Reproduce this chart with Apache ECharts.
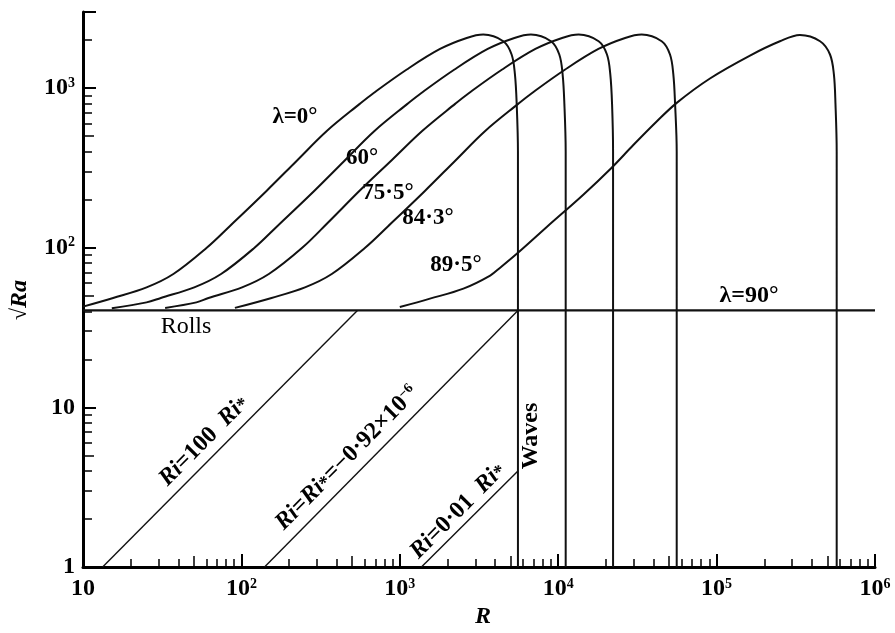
<!DOCTYPE html>
<html><head><meta charset="utf-8">
<script src="https://cdn.jsdelivr.net/npm/echarts@6/dist/echarts.min.js"></script>
<style>html,body{margin:0;padding:0;background:#fff}#c{width:895px;height:633px}</style>
</head><body><div id="c"></div>
<script>
// ---- data (R, sqrt(Ra)) ----
const R_lam0   = [10, 15.5, 25.2, 37.2, 60.4, 84.7, 144, 223, 346, 561, 681, 1107, 1795, 2645, 3365, 4500, 5080, 5330, 5470, 5570, 5570];
const Ra_lam0  = [42.8, 48.5, 56.5, 68.5, 100, 137, 227, 350, 539, 800, 930, 1309, 1760, 2062, 2166, 1967, 1625, 1223, 794, 400, 1];
const R_lam60  = [15.2, 25.2, 31, 50.4, 74.4, 121, 169, 288, 446, 692, 1122, 1362, 2214, 3590, 5290, 6730, 9000, 10160, 10660, 10940, 11150, 11150];
const Ra_lam60 = [41.8, 45.5, 48.5, 56.5, 68.5, 100, 137, 227, 350, 539, 800, 930, 1309, 1760, 2062, 2166, 1967, 1625, 1223, 794, 400, 1];
const R_lam75  = [33, 52, 62, 101, 149, 242, 350, 576, 892, 1384, 2244, 2724, 4428, 7180, 10580, 13460, 18000, 20320, 21320, 21880, 22200, 22200];
const Ra_lam75 = [42, 45.5, 48.5, 56.5, 68.5, 100, 143, 235, 355, 539, 800, 930, 1309, 1760, 2062, 2166, 1967, 1625, 1223, 794, 400, 1];
const R_lam84  = [91, 155, 252, 372, 604, 847, 1440, 2230, 3460, 5610, 6810, 11070, 17950, 26450, 33650, 45000, 50800, 53300, 54700, 56000, 56000];
const Ra_lam84 = [42, 48.5, 56.5, 68.5, 100, 137, 227, 350, 539, 800, 930, 1309, 1760, 2062, 2166, 1967, 1625, 1223, 794, 400, 1];
const R_lam89  = [1000, 1550, 2520, 3720, 4300, 5570, 8470, 14400, 21600, 29800, 42000, 56000, 90800, 162500, 251000, 336000, 450000, 520000, 550000, 563000, 573000, 573000];
const Ra_lam89 = [42.5, 48, 55.5, 67, 75, 93, 135, 215, 315, 440, 620, 809, 1150, 1600, 1966, 2150, 1967, 1625, 1223, 794, 400, 1];
const R_lam90  = [10, 1e6];
const Ra_lam90 = [40.5, 40.5];
const R_ri100  = [13.3, 540];
const Ra_ri100 = [1, 40.5];
const R_ristar = [140, 5570];
const Ra_ristar= [1, 40.5];
const R_ri001  = [1370, 5570];
const Ra_ri001 = [1, 4.0];

// ---- ticks ----
const xMinorTicks = [20,30,40,60,70,80,90,200,300,400,600,700,800,900,2000,3000,4000,6000,7000,8000,9000,
  20000,30000,40000,60000,70000,80000,90000,200000,300000,400000,600000,700000,800000,900000];
const xMidTicks = [50,500,5000,50000,500000];
const yMinorTicks = [2,3,4,6,7,8,9,20,30,40,60,70,80,90,200,300,400,600,700,800,900,2000];
const yMidTicks = [5,50,500];

const pairs = (xs, ys) => xs.map((x, i) => [x, ys[i]]);
const FONT = 'Liberation Serif';

const chart = echarts.init(document.getElementById('c'), null, {renderer: 'canvas'});

function powLabel(v) {
  const l = Math.log10(v), e = Math.round(l);
  if (Math.abs(l - e) > 1e-6) return '';
  if (e === 0) return '{b|1}';
  if (e === 1) return '{b|10}';
  return '{b|10}{s|' + e + '}';
}
const labRich = {
  b: {fontFamily: FONT, fontWeight: 'bold', fontSize: 24, color: '#000'},
  s: {fontFamily: FONT, fontWeight: 'bold', fontSize: 14, color: '#000', verticalAlign: 'top'}
};

function helperX(vals, len) {
  return {type: 'value', min: 1, max: 6, position: 'bottom',
    axisLine: {show: false}, splitLine: {show: false}, axisLabel: {show: false},
    axisTick: {show: true, inside: true, length: len, lineStyle: {color: '#000', width: 1.5},
      customValues: vals.map(Math.log10)}};
}
function helperY(vals, len) {
  return {type: 'value', min: 0, max: Math.log10(3000), position: 'left',
    axisLine: {show: false}, splitLine: {show: false}, axisLabel: {show: false},
    axisTick: {show: true, inside: true, length: len, lineStyle: {color: '#000', width: 1.5},
      customValues: vals.map(Math.log10)}};
}

const curveStyle = {color: '#111', width: 2};
function curve(name, xs, ys, opts) {
  return Object.assign({name, type: 'line', xAxisIndex: 0, yAxisIndex: 0, data: pairs(xs, ys),
    showSymbol: false, symbol: 'none', smooth: 0.35, lineStyle: curveStyle, silent: true, animation: false}, opts || {});
}

const option = {
  animation: false,
  backgroundColor: '#fff',
  grid: {left: 83, right: 20, top: 12, bottom: 66, containLabel: false},
  xAxis: [
    {type: 'log', logBase: 10, min: 10, max: 1e6, position: 'bottom',
      axisLine: {show: true, lineStyle: {color: '#000', width: 3}},
      axisTick: {show: true, inside: true, length: 13, lineStyle: {color: '#000', width: 2}},
      minorTick: {show: false}, splitLine: {show: false},
      axisLabel: {margin: 10, formatter: powLabel, rich: labRich}},
    helperX(xMinorTicks, 8),
    helperX(xMidTicks, 11)
  ],
  yAxis: [
    {type: 'log', logBase: 10, min: 1, max: 3000, position: 'left',
      axisLine: {show: true, lineStyle: {color: '#000', width: 3}},
      axisTick: {show: true, inside: true, length: 13, lineStyle: {color: '#000', width: 2}},
      minorTick: {show: false}, splitLine: {show: false},
      axisLabel: {margin: 8, formatter: powLabel, rich: labRich}},
    helperY(yMinorTicks, 9),
    helperY(yMidTicks, 11)
  ],
  series: [
    curve('λ=0°', R_lam0, Ra_lam0),
    curve('60°', R_lam60, Ra_lam60),
    curve('75·5°', R_lam75, Ra_lam75),
    curve('84·3°', R_lam84, Ra_lam84),
    curve('89·5°', R_lam89, Ra_lam89),
    curve('λ=90°', R_lam90, Ra_lam90, {smooth: false, lineStyle: {color: '#111', width: 2.2}}),
    curve('Ri=100 Ri*', R_ri100, Ra_ri100, {smooth: false, lineStyle: {color: '#111', width: 1.4}}),
    curve('Ri=Ri*', R_ristar, Ra_ristar, {smooth: false, lineStyle: {color: '#111', width: 1.4}}),
    curve('Ri=0·01 Ri*', R_ri001, Ra_ri001, {smooth: false, lineStyle: {color: '#111', width: 1.4}})
  ],
  graphic: []
};

function txt(x, y, text, size, extra, rot) {
  return Object.assign({type: 'text', x, y, rotation: rot || 0, silent: true,
    style: Object.assign({text, fontFamily: FONT, fontSize: size, fontWeight: 'bold', fill: '#000',
      align: 'center', verticalAlign: 'middle'}, extra || {})});
}
const riRich = {
  it: {fontFamily: FONT, fontStyle: 'italic', fontWeight: 'bold', fontSize: 24, fill: '#000'},
  n: {fontFamily: FONT, fontWeight: 'bold', fontSize: 24, fill: '#000'},
  sub: {fontFamily: FONT, fontWeight: 'bold', fontSize: 19, fill: '#000', verticalAlign: 'bottom'},
  sup: {fontFamily: FONT, fontWeight: 'bold', fontSize: 14, fill: '#000', verticalAlign: 'top'}
};
const ang = Math.atan2(160, 158.4);
option.graphic = [
  txt(295, 117, 'λ=0°', 23),
  txt(362, 158, '60°', 23),
  txt(388, 193, '75·5°', 23),
  txt(428, 218, '84·3°', 23),
  txt(456, 265, '89·5°', 23),
  txt(749, 296, 'λ=90°', 24),
  txt(186, 327, 'Rolls', 24, {fontWeight: 'normal'}),
  txt(531, 436, 'Waves', 24, {}, Math.PI / 2),
  txt(204, 441, '{it|Ri}{n|=100  }{it|Ri}{sub|*}', 24, {rich: riRich}, ang),
  txt(347, 458, '{it|Ri}{n|=}{it|Ri}{sub|*}{n|=−0·92×10}{sup|−6}', 24, {rich: riRich}, ang),
  txt(458, 511, '{it|Ri}{n|=0·01  }{it|Ri}{sub|*}', 24, {rich: riRich}, ang),
  txt(483, 617, 'R', 24, {fontStyle: 'italic'}),
  txt(20, 300, '{n|√}{it|Ra}', 24, {rich: {
    n: {fontFamily: FONT, fontWeight: 'normal', fontSize: 22, fill: '#000'},
    it: {fontFamily: FONT, fontStyle: 'italic', fontWeight: 'bold', fontSize: 24, fill: '#000'}}}, Math.PI / 2)
];

chart.setOption(option);
</script>
</body></html>
